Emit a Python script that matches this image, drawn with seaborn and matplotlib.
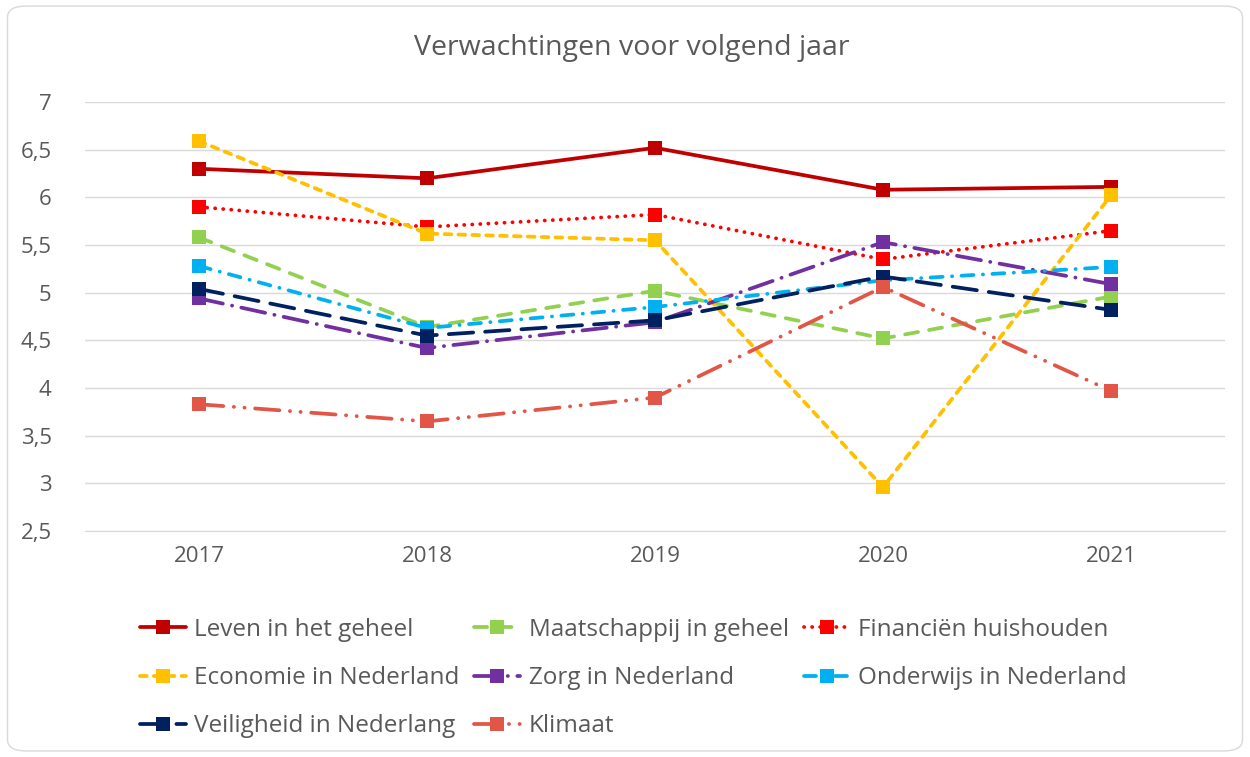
import matplotlib
matplotlib.use("Agg")
import matplotlib.pyplot as plt
import seaborn as sns
import pandas as pd
from matplotlib.patches import FancyBboxPatch
from matplotlib.ticker import FuncFormatter

years = ["2017", "2018", "2019", "2020", "2021"]
leven = [6.30, 6.20, 6.52, 6.08, 6.11]
maatschappij = [5.58, 4.64, 5.02, 4.52, 4.96]
financien = [5.90, 5.69, 5.82, 5.35, 5.65]
economie = [6.59, 5.62, 5.55, 2.96, 6.02]
zorg = [4.94, 4.42, 4.69, 5.53, 5.09]
onderwijs = [5.28, 4.63, 4.85, 5.13, 5.27]
veiligheid = [5.04, 4.55, 4.71, 5.17, 4.82]
klimaat = [3.83, 3.65, 3.90, 5.06, 3.97]

series = [
    ("Leven in het geheel", leven, "#C00000", None),
    ("Maatschappij in geheel", maatschappij, "#92D050", (3.5, 3)),
    ("Financiën huishouden", financien, "#FF0000", (0.05, 2.1)),
    ("Economie in Nederland", economie, "#FFC000", (1.8, 1.9)),
    ("Zorg in Nederland", zorg, "#7030A0", (6.5, 2.5, 0.05, 2.5)),
    ("Onderwijs in Nederland", onderwijs, "#00B0F0", (3.2, 2.5, 0.05, 2.5)),
    ("Veiligheid in Nederlang", veiligheid, "#002060", (6.5, 3.2)),
    ("Klimaat", klimaat, "#E15646", (6.5, 2.8, 0.05, 2.8, 0.05, 2.8)),
]

sns.set_style("white")
plt.rcParams["font.family"] = ["Open Sans", "DejaVu Sans"]
grey = "#595959"

fig = plt.figure(figsize=(12.5, 7.57), dpi=100)
ax = fig.add_axes([0.068, 0.2985, 0.912, 0.5667])

for name, vals, col, dash in series:
    df = pd.DataFrame({"jaar": years, "waarde": vals})
    ls = "-" if dash is None else (0, dash)
    sns.lineplot(data=df, x="jaar", y="waarde", ax=ax, color=col, label=name,
                 linestyle=ls, linewidth=2.7, marker="s", markersize=10,
                 markeredgewidth=0, dash_capstyle="round", sort=False)

ax.set_xlim(-0.5, 4.5)
ax.set_ylim(2.5, 7)
ax.set_yticks([2.5, 3, 3.5, 4, 4.5, 5, 5.5, 6, 6.5, 7])
ax.yaxis.set_major_formatter(FuncFormatter(lambda v, p: f"{v:g}".replace(".", ",")))
ax.grid(axis="y", color="#D9D9D9", linewidth=1)
ax.set_axisbelow(True)
for s in ["top", "right", "left"]:
    ax.spines[s].set_visible(False)
ax.spines["bottom"].set_color("#D9D9D9")
ax.tick_params(axis="both", length=0, labelsize=16, labelcolor=grey)
ax.tick_params(axis="x", pad=11)
ax.tick_params(axis="y", pad=24)
ax.set_xlabel("")
ax.set_ylabel("")

handles, labels = ax.get_legend_handles_labels()
ax.get_legend().remove()
order = [0, 3, 6, 1, 4, 7, 2, 5]
fig.legend([handles[i] for i in order], [labels[i] for i in order], ncol=3,
           loc="upper left", bbox_to_anchor=(0.102, 0.2), borderpad=0,
           frameon=False, fontsize=17.5, labelcolor=grey, handlelength=1.9,
           handletextpad=0.35, columnspacing=0.6, labelspacing=1.0)

fig.text(0.505, 0.937, "Verwachtingen voor volgend jaar", ha="center", va="center",
         fontsize=20.5, color=grey)

border = FancyBboxPatch((0.006, 0.008), 0.988, 0.984, boxstyle="round,pad=0,rounding_size=0.015",
                        transform=fig.transFigure, fill=False, edgecolor="#D9D9D9", linewidth=1)
fig.patches.append(border)

fig.savefig("out.png", dpi=100)
